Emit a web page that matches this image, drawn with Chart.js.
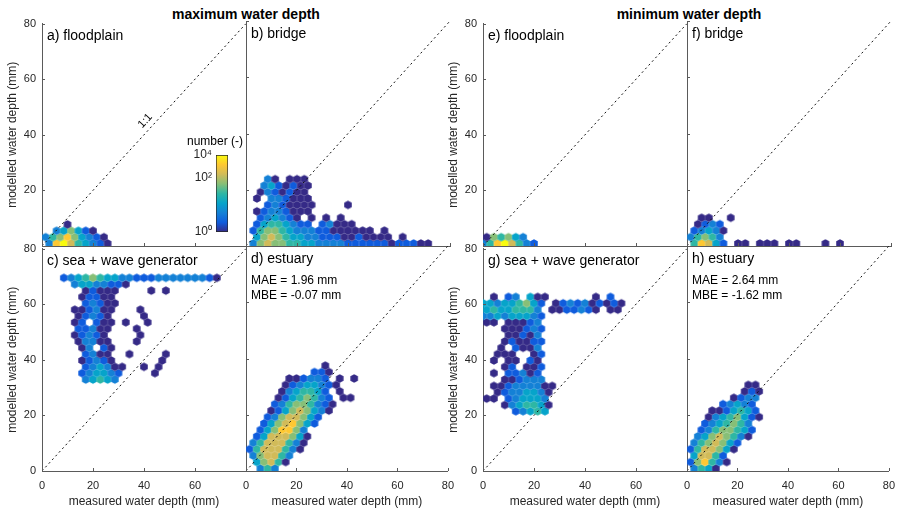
<!DOCTYPE html>
<html>
<head>
<meta charset="utf-8">
<script src="https://cdn.jsdelivr.net/npm/chart.js@4.4.0/dist/chart.umd.min.js"></script>
<style>
  body { margin: 0; background: #fff; width: 900px; height: 509px; overflow: hidden; position: relative; }
  canvas { position: absolute; }
  .ttl { position: absolute; top: 6px; font: bold 14px "Liberation Sans", Arial, sans-serif; color: #000;
         transform: translateX(-50%); white-space: nowrap; }
</style>
</head>
<body>
<div class="ttl" style="left:246px">maximum water depth</div>
<div class="ttl" style="left:689px">minimum water depth</div>
<script>
// axes
const AXIS_TICKS = [0, 20, 40, 60, 80];
const ONE_TO_ONE = [0, 80];
const ONE_TO_ONE_LABEL = [40.5, 45];

// hexbin grid (mm)
const HEX_DX = 80 / 28;
const HEX_DY = 80 / 35;
const HEX_Y0 = 0.9;

// colour level of each cell, 1 (=10^0) .. 9 (=10^4), rows from the bottom, odd rows shifted half a cell
const HEX_A = [
  ' 389754321',
  '356864321',
  '  346421',
  '   1'
];
const HEX_B = [
  ' 3676655443333222222122211',
  ' 4676544332221121111 1',
  ' 25665433322111111 1',
  ' 24554322 23111',
  '  234321 1 1 1',
  ' 12332111',
  '   2321111    1',
  ' 1 332111',
  '  1321211',
  '  3421211',
  '   31 111'
];
const HEX_C_START = 14;
const HEX_C = [
  '      34543',
  '     234432    1',
  '      234311  1 1',
  '     12321      1',
  '      2311  1    1',
  '     13 21',
  '     13311   1',
  '    12321    1',
  '     22311   1',
  '    12 211 1  1',
  '     12321    1',
  '    112311   1',
  '      23211',
  '     12211',
  '      12111    1 1',
  '    34433221',
  '   2345654433222333333321'
];
const HEX_D = [
  '  353',
  ' 46751',
  ' 367753',
  '25777531',
  ' 35777531',
  ' 24777641',
  '  2468863',
  '  24678642',
  '   23677642',
  '   124676431',
  '    235665321',
  '    12456532 11',
  '     1345542 1',
  '     12344321',
  '      112332 1 1',
  '         221',
  '           1'
];
const HEX_E = [
  '35897532',
  '165643'
];
const HEX_F = [
  ' 58742 11 111 11   1 1',
  '35653',
  ' 23431',
  ' 1232',
  '  11  1'
];
const HEX_G_START = 9;
const HEX_G = [
  '    23454',
  '   1345541',
  '11 234443',
  '  12334431',
  ' 112333311',
  '   112333',
  ' 1 22312',
  '   12 112',
  ' 1 11 21',
  '  111  12',
  '  1 2113',
  '   121122',
  '   11213',
  '   111232',
  '11 11123',
  '334344432',
  '45445553 1122321 11',
  '443445642 1232312121',
  ' 1 23 411      1 2'
];
const HEX_H = [
  ' 3541',
  '268531',
  ' 47752',
  '2577641',
  ' 3567642',
  ' 34676531',
  '  23566542',
  '  2345653',
  '   13456421',
  '   1124542',
  '     23432',
  '      1233',
  '        121',
  '        11'
];

// colour bar
const CBAR_POS = [0, Math.sqrt(0.5), 1];
const CBAR_LABELS = ['10\u2070', '10\u00b2', '10\u2074'];
const PARULA = ['#352a87', '#0f5cdd', '#1481d6', '#06a4ca', '#2eb7a4', '#87bf77', '#d1bb59', '#fec832', '#f9fb0e'];

Chart.defaults.font.family = '"Liberation Sans", Arial, Helvetica, sans-serif';
Chart.defaults.font.size = 11;
Chart.defaults.color = '#262626';

const AX = '#5a5a5a';
const PW = 204, PH = 225;
const ML = 42, MB = 38, MT = 10, MR = 12;
const FONT = '"Liberation Sans", Arial, sans-serif';

function hexImage(color, r) {
  const c = document.createElement('canvas');
  c.width = Math.ceil(r * Math.sqrt(3)) + 2;
  c.height = Math.ceil(2 * r) + 2;
  const g = c.getContext('2d');
  g.fillStyle = color;
  g.beginPath();
  for (let k = 0; k < 6; k++) {
    const a = Math.PI / 6 + k * Math.PI / 3;
    const px = c.width / 2 + r * Math.cos(a), py = c.height / 2 + r * Math.sin(a);
    if (k === 0) g.moveTo(px, py); else g.lineTo(px, py);
  }
  g.closePath();
  g.fill();
  return c;
}
const HEX_R = PW / 80 * HEX_DX / Math.sqrt(3) * 1.04;
const HEX_IMG = PARULA.map(col => hexImage(col, HEX_R));

function hexPoints(rows, start) {
  const pts = [];
  rows.forEach((row, i) => {
    const r = i + (start || 0);
    for (let c = 0; c < row.length; c++) {
      if (row[c] === ' ') continue;
      pts.push({ x: (c + (r % 2) * 0.5) * HEX_DX, y: HEX_Y0 + r * HEX_DY, lv: +row[c] });
    }
  });
  return pts;
}

const deco = {
  id: 'deco',
  afterDraw(chart, args, o) {
    const { ctx, chartArea: a } = chart;
    const x = chart.scales.x, y = chart.scales.y;
    ctx.save();
    // ticks pointing inward
    ctx.strokeStyle = AX;
    ctx.lineWidth = 1;
    ctx.beginPath();
    for (const v of AXIS_TICKS) {
      const px = Math.round(x.getPixelForValue(v)) + 0.5;
      const py = Math.round(y.getPixelForValue(v)) + 0.5;
      ctx.moveTo(px, a.bottom); ctx.lineTo(px, a.bottom - 3);
      ctx.moveTo(a.left, py); ctx.lineTo(a.left + 3, py);
    }
    ctx.stroke();
    ctx.fillStyle = '#000';
    ctx.textAlign = 'left';
    ctx.textBaseline = 'middle';
    ctx.font = '14px ' + FONT;
    ctx.fillText(o.label, a.left + 5, a.top + 13);
    ctx.font = '12px ' + FONT;
    (o.notes || []).forEach((t, i) => ctx.fillText(t, a.left + 5, a.top + 35 + i * 15));
    if (o.oneToOne) {
      const ang = Math.atan2(a.bottom - a.top, a.right - a.left);
      ctx.translate(x.getPixelForValue(ONE_TO_ONE_LABEL[0]), y.getPixelForValue(ONE_TO_ONE_LABEL[1]));
      ctx.rotate(-ang);
      ctx.textAlign = 'center';
      ctx.font = '11px ' + FONT;
      ctx.fillText('1:1', 0, 0);
    }
    ctx.restore();
  }
};

const PANELS = [
  { rows: HEX_A, left: 42, top: 21, label: 'a) floodplain', yLab: true, ySkip: [0], yTitle: true, oneToOne: true },
  { rows: HEX_B, left: 246, top: 21, label: 'b) bridge' },
  { rows: HEX_C, start: HEX_C_START, left: 42, top: 246, label: 'c) sea + wave generator', yLab: true, ySkip: [], yTitle: true, xLab: true, xSkip: [80], xTitle: true },
  { rows: HEX_D, left: 246, top: 246, label: 'd) estuary', notes: ['MAE = 1.96 mm', 'MBE = -0.07 mm'], xLab: true, xSkip: [], xTitle: true },
  { rows: HEX_E, left: 483, top: 21, label: 'e) floodplain', yLab: true, ySkip: [0], yTitle: true },
  { rows: HEX_F, left: 687, top: 21, label: 'f) bridge' },
  { rows: HEX_G, start: HEX_G_START, left: 483, top: 246, label: 'g) sea + wave generator', yLab: true, ySkip: [], yTitle: true, xLab: true, xSkip: [80], xTitle: true },
  { rows: HEX_H, left: 687, top: 246, label: 'h) estuary', notes: ['MAE = 2.64 mm', 'MBE = -1.62 mm'], xLab: true, xSkip: [], xTitle: true }
];

function addCanvas(left, top, w, h) {
  const cv = document.createElement('canvas');
  cv.width = w; cv.height = h;
  cv.style.left = left + 'px';
  cv.style.top = top + 'px';
  document.body.appendChild(cv);
  return cv;
}

PANELS.forEach(p => {
  const cv = addCanvas(p.left - ML, p.top - MT, PW + ML + MR, PH + MT + MB);
  new Chart(cv, {
    type: 'scatter',
    data: {
      datasets: [{
        type: 'line',
        data: ONE_TO_ONE.map(v => ({ x: v, y: v })),
        borderColor: '#111',
        borderWidth: 1,
        borderDash: [2, 3],
        pointRadius: 0,
        fill: false
      }, {
        data: hexPoints(p.rows, p.start),
        pointStyle: c => (c.raw ? HEX_IMG[c.raw.lv - 1] : 'circle'),
        pointRadius: 4,
        pointBorderWidth: 0,
        showLine: false,
        clip: 0
      }]
    },
    options: {
      responsive: false,
      animation: false,
      events: [],
      layout: { padding: { top: MT, right: MR, left: 0, bottom: 0 } },
      plugins: {
        legend: { display: false },
        tooltip: { enabled: false },
        deco: { label: p.label, notes: p.notes, oneToOne: p.oneToOne }
      },
      scales: {
        x: {
          type: 'linear', min: 0, max: 80,
          afterBuildTicks: s => { s.ticks = AXIS_TICKS.map(v => ({ value: v })); },
          afterFit: s => { s.height = MB; },
          ticks: {
            display: !!p.xLab, autoSkip: false, maxRotation: 0, padding: 8,
            callback: v => ((p.xSkip || []).includes(v) ? '' : v)
          },
          grid: { display: false, drawTicks: false },
          border: { display: true, color: AX, width: 1 },
          title: { display: !!p.xTitle, text: 'measured water depth (mm)', font: { size: 12 }, padding: { top: 0, bottom: 0 } }
        },
        y: {
          type: 'linear', min: 0, max: 80,
          afterBuildTicks: s => { s.ticks = AXIS_TICKS.map(v => ({ value: v })); },
          afterFit: s => { s.width = ML; },
          ticks: {
            display: !!p.yLab, autoSkip: false, padding: 6,
            callback: v => ((p.ySkip || []).includes(v) ? '' : v)
          },
          grid: { display: false, drawTicks: false },
          border: { display: true, color: AX, width: 1 },
          title: { display: !!p.yTitle, text: 'modelled water depth (mm)', font: { size: 12 }, padding: { top: 5, bottom: 0 } }
        }
      }
    },
    plugins: [deco]
  });
});

// colour bar
function cbarFill(c) {
  const area = c.chart.chartArea;
  if (!area) return PARULA[0];
  const g = c.chart.ctx.createLinearGradient(0, area.bottom, 0, area.top);
  PARULA.forEach((col, i) => g.addColorStop(i / (PARULA.length - 1), col));
  return g;
}
const cbarTitle = {
  id: 'cbarTitle',
  afterDraw(chart) {
    const ctx = chart.ctx;
    ctx.save();
    ctx.fillStyle = '#000';
    ctx.font = '12px ' + FONT;
    ctx.textAlign = 'center';
    ctx.textBaseline = 'middle';
    ctx.fillText('number (-)', 49, 14);
    ctx.restore();
  }
};
new Chart(addCanvas(166, 128, 96, 118), {
  type: 'bar',
  data: {
    labels: [''],
    datasets: [{
      data: [[0, 1]],
      backgroundColor: cbarFill,
      borderColor: '#262626',
      borderWidth: 1,
      borderSkipped: false,
      barPercentage: 1,
      categoryPercentage: 1
    }]
  },
  options: {
    responsive: false,
    animation: false,
    events: [],
    layout: { padding: { top: 27, right: 34, left: 0, bottom: 14 } },
    plugins: { legend: { display: false }, tooltip: { enabled: false } },
    scales: {
      x: { display: false },
      y: {
        min: 0, max: 1,
        afterBuildTicks: s => { s.ticks = CBAR_POS.map(v => ({ value: v })); },
        afterFit: s => { s.width = 50; },
        ticks: { autoSkip: false, padding: 4, font: { size: 12 }, callback: (v, i) => CBAR_LABELS[i] },
        grid: { display: false, drawTicks: false },
        border: { display: false }
      }
    }
  },
  plugins: [cbarTitle]
});
</script>
</body>
</html>
